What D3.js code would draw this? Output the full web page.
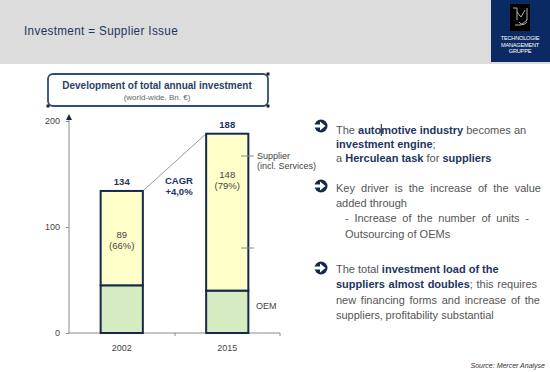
<!DOCTYPE html>
<html><head><meta charset="utf-8">
<script src="https://cdn.jsdelivr.net/npm/d3@7"></script>
<style>
html,body{margin:0;padding:0;background:#fff;}
svg{display:block;font-family:"Liberation Sans",Arial,sans-serif;}
</style></head>
<body>
<svg id="c" width="550" height="372"></svg>
<script>
// ---- data ----
const categories = ["2002", "2015"];
const oemValues = [45, 40];
const supplierValues = [89, 148];
const totals = [134, 188];
const supplierShares = ["66%", "79%"];
const yTicks = [0, 100, 200];
const cagrLabel = ["CAGR", "+4,0%"];

const svg = d3.select("#c");
const navy = "#14294b";

// header
svg.append("rect").attr("x",0).attr("y",0).attr("width",550).attr("height",64).attr("fill","#dcdcdc");
svg.append("rect").attr("x",491).attr("y",0).attr("width",59).attr("height",62).attr("fill","#0b2a63");
svg.append("text").attr("x",24).attr("y",35)
  .attr("font-size",13).attr("fill","#1d3560").attr("letter-spacing","0.4")
  .attr("textLength",154).attr("lengthAdjust","spacingAndGlyphs")
  .text("Investment  = Supplier Issue");
// logo
const lg = svg.append("g");
lg.append("rect").attr("x",510).attr("y",4).attr("width",20).attr("height",27).attr("fill","#000");
lg.append("path").attr("d","M513,8 L517,8 L517,20 M527,8 L527,20 L521,25 L515,25 M517,12 L521,17 L525,10 M519,22 Q523,27 527,22")
  .attr("fill","none").attr("stroke","#ddd").attr("stroke-width",0.8);
["TECHNOLOGIE","MANAGEMENT","GRUPPE"].forEach((t,i)=>{
  lg.append("text").attr("x",520).attr("y",40+i*6.5).attr("text-anchor","middle")
    .attr("font-size",5.6).attr("fill","#fff").attr("letter-spacing","-0.2").text(t);
});

// title box
svg.append("rect").attr("x",48).attr("y",74).attr("width",220).attr("height",32).attr("rx",5)
  .attr("fill","#fff").attr("stroke","#2e4d7a").attr("stroke-width",1.8);
[[48,106],[268,74],[268,106]].forEach(p=>{
  svg.append("rect").attr("x",p[0]-1.5).attr("y",p[1]-1.5).attr("width",3).attr("height",3).attr("fill","#222");
});
svg.append("text").attr("x",157).attr("y",89).attr("text-anchor","middle").attr("font-size",10)
  .attr("font-weight","bold").attr("fill","#2b4164").text("Development of  total annual investment");
svg.append("text").attr("x",157).attr("y",100).attr("text-anchor","middle").attr("font-size",8)
  .attr("fill","#666").text("(world-wide, Bn. €)");

// scales
const x = d3.scaleBand().domain(categories).range([69,280]).paddingInner(0.6).paddingOuter(0.3);
const y = d3.scaleLinear().domain([0,200]).range([333,121]);
const axisColor = "#8a8a8a";

// y axis
const yAxis = svg.append("g").attr("transform","translate(69,0)")
  .call(d3.axisLeft(y).tickValues(yTicks).tickSize(3).tickPadding(6));
yAxis.select(".domain").remove();
yAxis.selectAll("line").attr("stroke",axisColor);
yAxis.selectAll("text").attr("font-size",9).attr("fill","#444").attr("font-family","'Liberation Sans',Arial,sans-serif");
svg.append("line").attr("x1",69).attr("x2",69).attr("y1",y(0)).attr("y2",y(200)-5).attr("stroke",axisColor);
svg.append("path").attr("d",`M66,${y(200)-1} L69,${y(200)-7} L72,${y(200)-1} Z`).attr("fill",navy);

// x axis
const xAxis = svg.append("g").attr("transform",`translate(0,${y(0)})`)
  .call(d3.axisBottom(x).tickSize(0).tickPadding(12));
xAxis.select(".domain").attr("stroke",axisColor).attr("d","M69,0H280");
xAxis.selectAll("text").attr("font-size",9).attr("fill","#444").attr("font-family","'Liberation Sans',Arial,sans-serif");
[175,280].forEach(px=>svg.append("line").attr("x1",px).attr("x2",px).attr("y1",y(0)).attr("y2",y(0)+3).attr("stroke",axisColor));

// connector line
svg.append("line").attr("x1",x(categories[0])+x.bandwidth()).attr("y1",y(totals[0]))
  .attr("x2",x(categories[1])).attr("y2",y(totals[1])).attr("stroke","#9a9a9a").attr("stroke-width",1);

// bars
const bars = svg.append("g");
categories.forEach((c,i)=>{
  bars.append("rect").attr("x",x(c)).attr("y",y(oemValues[i])).attr("width",x.bandwidth())
    .attr("height",y(0)-y(oemValues[i])).attr("fill","#d5ebc1").attr("stroke",navy).attr("stroke-width",2);
  bars.append("rect").attr("x",x(c)).attr("y",y(oemValues[i]+supplierValues[i])).attr("width",x.bandwidth())
    .attr("height",y(oemValues[i])-y(oemValues[i]+supplierValues[i])).attr("fill","#ffffc9").attr("stroke",navy).attr("stroke-width",2);
  const cx = x(c)+x.bandwidth()/2;
  svg.append("text").attr("x",cx).attr("y",y(totals[i])-6).attr("text-anchor","middle")
    .attr("font-size",9.5).attr("font-weight","bold").attr("fill","#1d3560").text(totals[i]);
  const my = y(oemValues[i]+supplierValues[i]*(i===0?0.5:0.72));
  svg.append("text").attr("x",cx).attr("y",my).attr("text-anchor","middle")
    .attr("font-size",9.5).attr("fill","#444").text(supplierValues[i]);
  svg.append("text").attr("x",cx).attr("y",my+11).attr("text-anchor","middle")
    .attr("font-size",9.5).attr("fill","#444").text("(" + supplierShares[i] + ")");
});

// CAGR
cagrLabel.forEach((t,i)=>svg.append("text").attr("x",179).attr("y",184+i*10.5).attr("text-anchor","middle")
  .attr("font-size",9.5).attr("font-weight","bold").attr("fill","#1d3560").text(t));

// annotations
svg.append("line").attr("x1",241).attr("x2",254).attr("y1",156).attr("y2",156).attr("stroke",axisColor);
svg.append("line").attr("x1",241).attr("x2",254).attr("y1",248).attr("y2",248).attr("stroke",axisColor);
svg.append("text").attr("x",257).attr("y",159).attr("font-size",9).attr("fill","#444").text("Supplier");
svg.append("text").attr("x",257).attr("y",169).attr("font-size",9).attr("fill","#444").text("(incl. Services)");
svg.append("text").attr("x",256).attr("y",309).attr("font-size",9).attr("fill","#444").text("OEM");

// right side bullets
const grey = "#555", boldC = "#1d3560";
function bullet(cy){
  svg.append("circle").attr("cx",321).attr("cy",cy).attr("r",6.5).attr("fill",navy);
  svg.append("path").attr("d",`M313,${cy-1.6} L320,${cy-1.6} L320,${cy-4.5} L325.5,${cy} L320,${cy+4.5} L320,${cy+1.6} L313,${cy+1.6} Z`).attr("fill","#fff");
}
function line(xp, yp, parts, justifyTo){
  const t = svg.append("text").attr("x",xp).attr("y",yp).attr("font-size",11);
  parts.forEach(p=>{
    const s = t.append("tspan").text(p[0]);
    if(p[1]) s.attr("font-weight","bold").attr("fill",boldC);
    else s.attr("fill",grey);
  });
  if(justifyTo){
    const len = t.node().getComputedTextLength();
    const spaces = parts.map(p=>p[0]).join("").split(" ").length-1;
    if(spaces>0) t.attr("word-spacing", Math.max(0,(justifyTo-xp-len)/spaces));
  }
  return t;
}
bullet(126);
const l1 = line(336,134,[["The ",0],["auto",1],["motive industry",1],[" becomes an",0]]);
{
  const tsp = l1.selectAll("tspan").nodes();
  const cx = 336 + tsp[0].getComputedTextLength() + tsp[1].getComputedTextLength();
  svg.append("line").attr("x1",cx).attr("x2",cx).attr("y1",124).attr("y2",136).attr("stroke","#111").attr("stroke-width",1);
}
line(336,148,[["investment engine",1],[";",0]]);
line(336,162,[["a ",0],["Herculean task",1],[" for ",0],["suppliers",1]]);
bullet(186);
line(336,192,[["Key driver is the increase of the value",0]],541);
line(336,207,[["added through",0]]);
line(345,222,[["- Increase of the number of units -",0]],529);
line(345,238,[["Outsourcing of OEMs",0]]);
bullet(268);
line(336,273,[["The total ",0],["investment load of the",1]]);
line(336,288,[["suppliers almost doubles",1],["; this requires",0]],537);
line(336,304,[["new financing forms and increase of the",0]],540);
line(336,319,[["suppliers‚ profitability substantial",0]]);

svg.append("text").attr("x",545).attr("y",368).attr("text-anchor","end").attr("font-size",7)
  .attr("font-style","italic").attr("fill","#333").text("Source: Mercer Analyse");
</script>
</body></html>
